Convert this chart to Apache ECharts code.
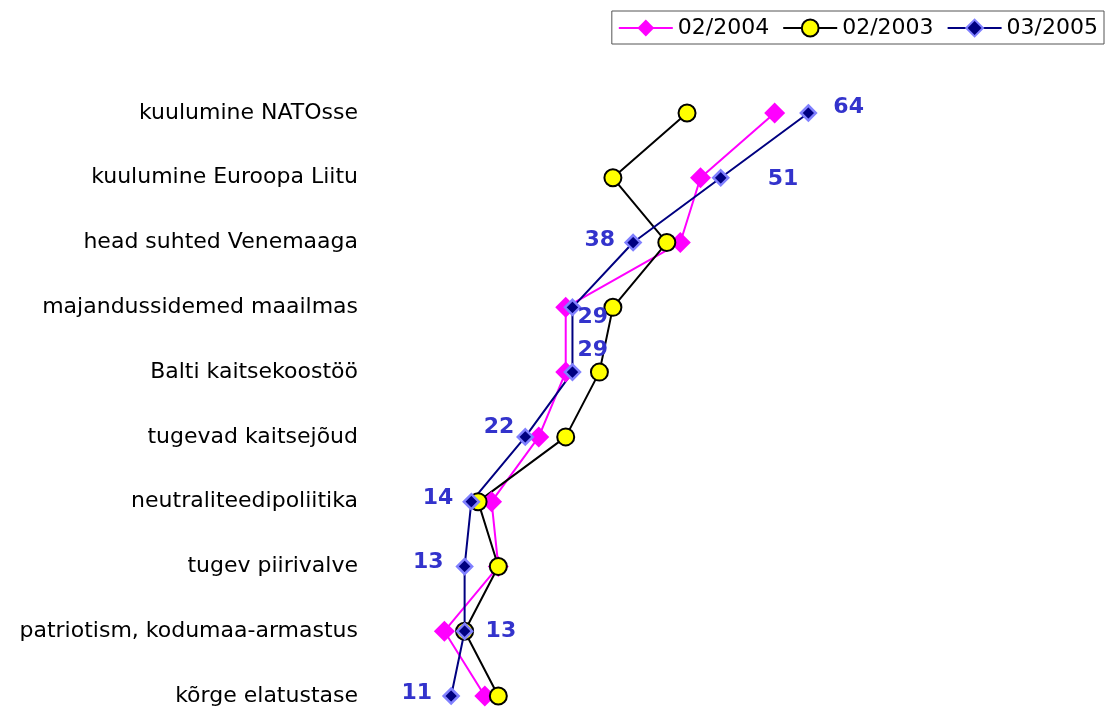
<!DOCTYPE html>
<html>
<head>
<meta charset="utf-8">
<script src="https://cdn.jsdelivr.net/npm/echarts@6/dist/echarts.min.js"></script>
<style>html,body{margin:0;padding:0;background:#fff;}#chart{width:1105px;height:709px;}</style>
</head>
<body>
<div id="chart"></div>
<script>
const categories = [
  'kuulumine NATOsse',
  'kuulumine Euroopa Liitu',
  'head suhted Venemaaga',
  'majandussidemed maailmas',
  'Balti kaitsekoostöö',
  'tugevad kaitsejõud',
  'neutraliteedipoliitika',
  'tugev piirivalve',
  'patriotism, kodumaa-armastus',
  'kõrge elatustase'
];
const seriesNames = ['02/2004', '02/2003', '03/2005'];
const values2004 = [59, 48, 45, 28, 28, 24, 17, 18, 10, 16];
const values2003 = [46, 35, 43, 35, 33, 28, 15, 18, 13, 18];
const values2005 = [64, 51, 38, 29, 29, 22, 14, 13, 13, 11];

// label placement for 03/2005 value labels: [align, dx, dy]
const labelPlacement = [
  ['left', 25, -6], ['left', 47, 2], ['right', -18, -2], ['left', 5, 10], ['left', 5, -22],
  ['right', -11, -10], ['right', -18, -3], ['right', -21, -4], ['left', 21, 0], ['right', -19, -3]
];

const FONT = 'DejaVu Sans, Verdana, sans-serif';
const chart = echarts.init(document.getElementById('chart'), null, {renderer: 'canvas'});

const data2005 = values2005.map((v, i) => ({
  value: v,
  label: {
    show: true,
    position: 'inside',
    align: labelPlacement[i][0],
    verticalAlign: 'middle',
    offset: [labelPlacement[i][1], labelPlacement[i][2]],
    color: '#3333cc',
    fontWeight: 'bold',
    fontSize: 22,
    fontFamily: FONT,
    formatter: '{c}'
  }
}));

chart.setOption({
  animation: false,
  backgroundColor: '#ffffff',
  legend: {
    data: seriesNames,
    right: 1,
    top: 11,
    borderColor: '#555',
    borderWidth: 1,
    padding: [6, 6, 5, 6],
    itemWidth: 54,
    itemHeight: 21,
    itemGap: 13,
    textStyle: {fontSize: 22, color: '#000', fontFamily: FONT}
  },
  grid: {left: 377, right: 54, top: 113, bottom: 13, containLabel: false},
  xAxis: {
    type: 'value', min: 0, max: 100, show: false
  },
  yAxis: {
    type: 'category',
    data: categories,
    inverse: true,
    boundaryGap: false,
    axisLine: {show: false},
    axisTick: {show: false},
    splitLine: {show: false},
    axisLabel: {fontSize: 22, color: '#000', margin: 19, fontFamily: FONT}
  },
  series: [
    {
      name: seriesNames[0], type: 'line', data: values2004,
      symbol: 'diamond', symbolSize: 21,
      lineStyle: {color: '#ff00ff', width: 2},
      itemStyle: {color: '#ff00ff'}
    },
    {
      name: seriesNames[1], type: 'line', data: values2003,
      symbol: 'circle', symbolSize: 17,
      lineStyle: {color: '#000000', width: 2},
      itemStyle: {color: '#ffff00', borderColor: '#000000', borderWidth: 2}
    },
    {
      name: seriesNames[2], type: 'line', data: data2005,
      symbol: 'diamond', symbolSize: 15,
      lineStyle: {color: '#000080', width: 2},
      itemStyle: {color: '#000080', borderColor: '#8080ff', borderWidth: 2.5}
    }
  ]
});
</script>
</body>
</html>
